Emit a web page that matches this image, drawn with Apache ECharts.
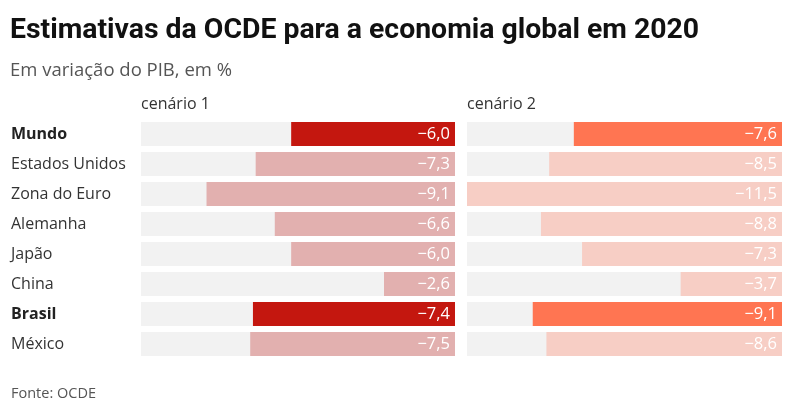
<!DOCTYPE html>
<html>
<head>
<meta charset="utf-8">
<script src="https://cdn.jsdelivr.net/npm/echarts@6/dist/echarts.min.js"></script>
<style>html,body{margin:0;padding:0;background:#fff;}#c{width:800px;height:410px;}</style>
</head>
<body>
<div id="c"></div>
<script>
const categories = ['Mundo', 'Estados Unidos', 'Zona do Euro', 'Alemanha', 'Japão', 'China', 'Brasil', 'México'];
const cenario1 = [-6.0, -7.3, -9.1, -6.6, -6.0, -2.6, -7.4, -7.5];
const cenario2 = [-7.6, -8.5, -11.5, -8.8, -7.3, -3.7, -9.1, -8.6];
const highlighted = ['Mundo', 'Brasil'];
const panelTitles = ['cenário 1', 'cenário 2'];

const chart = echarts.init(document.getElementById('c'));
const fmt = v => '\u2212' + Math.abs(v).toFixed(1).replace('.', ',');

function seriesData(vals, hiColor, loColor) {
  return vals.map((v, i) => ({
    value: v,
    itemStyle: { color: highlighted.includes(categories[i]) ? hiColor : loColor }
  }));
}

const barCommon = {
  type: 'bar',
  barWidth: 24,
  showBackground: true,
  backgroundStyle: { color: '#f2f2f2' },
  label: {
    show: true, position: 'insideRight', distance: 5,
    color: '#fff', fontFamily: 'Open Sans', fontSize: 16.5,
    formatter: p => fmt(p.value)
  },
  animation: false
};

chart.setOption({
  animation: false,
  title: [
    { text: 'Estimativas da OCDE para a economia global em 2020', left: 10, top: 17, padding: 0,
      textStyle: { fontFamily: 'Roboto', fontWeight: 'bold', fontSize: 28.4, color: '#111' } },
    { text: 'Em variação do PIB, em %', left: 10, top: 61, padding: 0,
      textStyle: { fontFamily: 'Open Sans', fontWeight: 'normal', fontSize: 18.5, color: '#555' } },
    { text: panelTitles[0], left: 141, top: 96, padding: 0,
      textStyle: { fontFamily: 'Open Sans', fontWeight: 'normal', fontSize: 16, color: '#333' } },
    { text: panelTitles[1], left: 467, top: 96, padding: 0,
      textStyle: { fontFamily: 'Open Sans', fontWeight: 'normal', fontSize: 16, color: '#333' } },
    { text: 'Fonte: OCDE', left: 11, top: 386, padding: 0,
      textStyle: { fontFamily: 'Open Sans', fontWeight: 'normal', fontSize: 14.5, color: '#555' } }
  ],
  grid: [
    { left: 141, width: 314, top: 119, height: 240 },
    { left: 467, width: 315, top: 119, height: 240 }
  ],
  xAxis: [
    { gridIndex: 0, type: 'value', min: -11.5, max: 0, show: false },
    { gridIndex: 1, type: 'value', min: -11.5, max: 0, show: false }
  ],
  yAxis: [
    { gridIndex: 0, type: 'category', data: categories, inverse: true,
      axisLine: { show: false }, axisTick: { show: false }, splitLine: { show: false },
      axisLabel: {
        align: 'left', margin: 130, fontFamily: 'Open Sans', fontSize: 16, color: '#333',
        formatter: v => highlighted.includes(v) ? '{b|' + v + '}' : v,
        rich: { b: { fontFamily: 'Open Sans', fontSize: 16, fontWeight: 'bold', color: '#222' } }
      } },
    { gridIndex: 1, type: 'category', data: categories, inverse: true, show: false }
  ],
  series: [
    Object.assign({}, barCommon, { xAxisIndex: 0, yAxisIndex: 0, data: seriesData(cenario1, '#c4170f', '#e2b0af') }),
    Object.assign({}, barCommon, { xAxisIndex: 1, yAxisIndex: 1, data: seriesData(cenario2, '#ff7552', '#f7cec5') })
  ]
});
</script>
</body>
</html>
